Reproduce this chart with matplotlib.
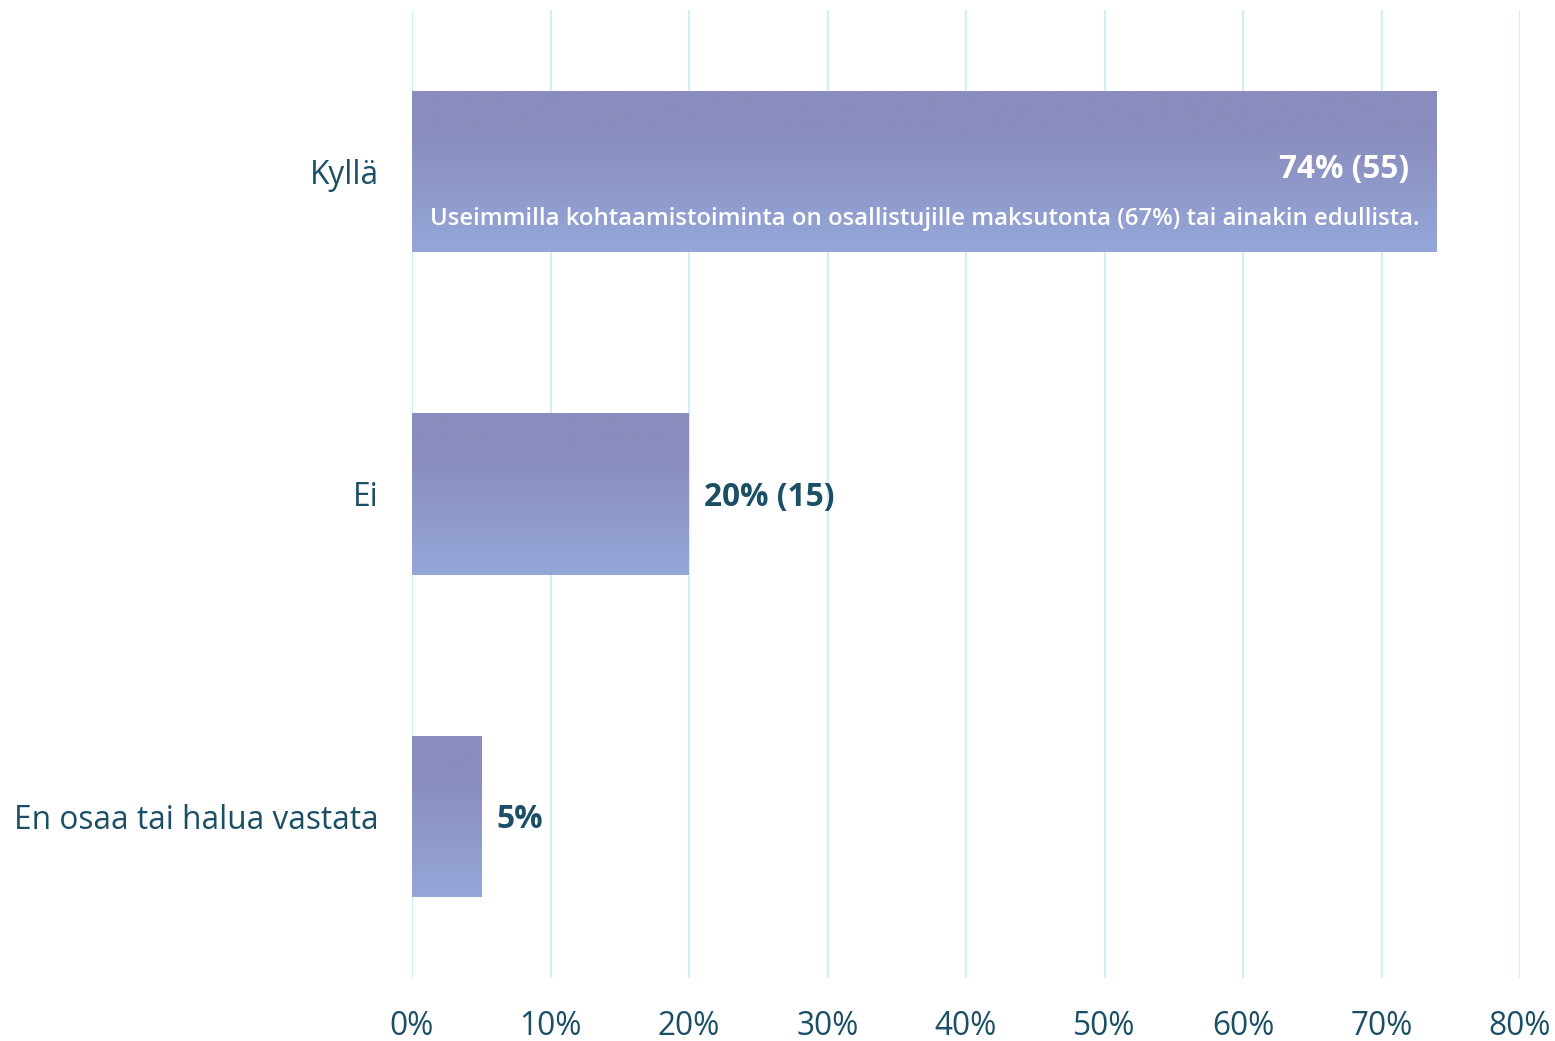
import matplotlib
matplotlib.use("Agg")
import matplotlib.pyplot as plt
import numpy as np
from matplotlib.colors import LinearSegmentedColormap

plt.rcParams['font.family'] = ['Open Sans', 'DejaVu Sans']

categories = ["Kyllä", "Ei", "En osaa tai halua vastata"]
values = [74, 20, 5]
value_labels = ["74% (55)", "20% (15)", "5%"]
note = "Useimmilla kohtaamistoiminta on osallistujille maksutonta (67%) tai ainakin edullista."
xticks = [0, 10, 20, 30, 40, 50, 60, 70, 80]

text_color = "#1b4f66"
grid_color = "#d3eff7"
top_col = "#898cbc"
bot_col = "#95a7d9"

W, H = 1555, 1041
fig = plt.figure(figsize=(W / 100, H / 100), dpi=100)
ax = fig.add_axes([412 / W, 1 - 978 / H, (1520 - 412) / W, (978 - 10) / H])

y = np.arange(len(categories))
bars = ax.barh(y, values, height=0.5, color=top_col, zorder=2)

cmap = LinearSegmentedColormap.from_list("g", [(0, top_col), (0.25, top_col), (1, bot_col)], N=256)
grad = np.linspace(0, 1, 256).reshape(-1, 1)
for b in bars:
    x0, yb = b.get_x(), b.get_y()
    w, h = b.get_width(), b.get_height()
    im = ax.imshow(grad, cmap=cmap, aspect='auto', extent=[x0, x0 + w, yb + h, yb],
                   zorder=3, interpolation='bilinear')
    im.set_clip_path(b)

ax.set_xlim(0, 80)
ax.set_ylim(2.5, -0.5)
ax.set_xticks(xticks)
ax.set_xticklabels([f"{t}%" for t in xticks])
ax.set_yticks(y)
ax.set_yticklabels(categories)
ax.tick_params(axis='x', length=0, pad=23, labelsize=22.8, labelcolor=text_color)
ax.tick_params(axis='y', length=0, pad=24, labelsize=22.8, labelcolor=text_color)
for lbl in ax.get_yticklabels():
    lbl.set_y(lbl.get_position()[1])
for s in ax.spines.values():
    s.set_visible(False)
ax.grid(axis='x', color=grid_color, linewidth=1.6, zorder=0)
ax.set_axisbelow(True)

# labels
ax.text(values[0] - 2.0, -0.005, value_labels[0], ha='right', va='center', color='white',
        fontsize=22.7, fontweight='bold', zorder=5)
ax.text(1.3, 0.148, note, ha='left', va='center', color='white',
        fontsize=17.2, fontweight='semibold', zorder=5)
for i in (1, 2):
    ax.text(values[i] + 1.1, i + 0.01, value_labels[i], ha='left', va='center',
            color=text_color, fontsize=22.8, fontweight='bold', zorder=5)

fig.savefig("out.png", dpi=100)
